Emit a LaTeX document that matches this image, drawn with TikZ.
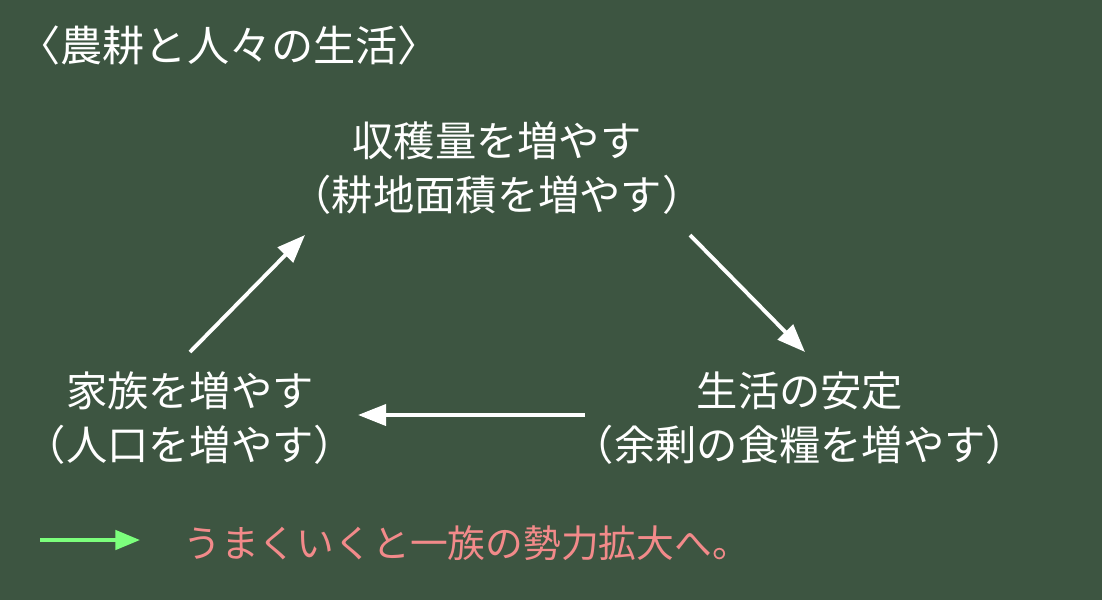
\documentclass[tikz,border=0pt]{standalone}
\usepackage{fontspec}
\setmainfont{Noto Sans CJK JP}
\usetikzlibrary{arrows.meta}
\definecolor{board}{HTML}{3D5541}
\definecolor{pinktxt}{HTML}{F28A8A}
\definecolor{greenarr}{HTML}{7CFF7C}
\begin{document}
\begin{tikzpicture}[x=0.02cm,y=-0.02cm,
  lbl/.style={text=white,font=\fontsize{23.5}{31}\selectfont,align=center,inner sep=0},
  arr/.style={draw=white,line width=2.2pt,-{Triangle[length=16pt,width=12pt]}}]
\fill[board] (0,0) rectangle (1102,600);
\useasboundingbox (0,0) rectangle (1102,600);
\node[lbl,anchor=west,font=\fontsize{24}{30}\selectfont] (title) at (18,45) {〈農耕と人々の生活〉};
\node[lbl] (top) at (497,168) {収穫量を増やす\\（耕地面積を増やす）};
\node[lbl] (right) at (800,418) {生活の安定\\（余剰の食糧を増やす）};
\node[lbl] (left) at (190,418) {家族を増やす\\（人口を増やす）};
\coordinate (a1) at (190,352); \coordinate (a2) at (305,235);
\coordinate (b1) at (690,235); \coordinate (b2) at (805,352);
\coordinate (c1) at (585,415); \coordinate (c2) at (358,415);
\draw[arr] (a1) -- (a2);
\draw[arr] (b1) -- (b2);
\draw[arr] (c1) -- (c2);
\coordinate (g1) at (40,540); \coordinate (g2) at (140,540);
\draw[draw=greenarr,line width=2pt,-{Triangle[length=14pt,width=11pt]}] (g1) -- (g2);
\node[lbl,text=pinktxt,anchor=west,font=\fontsize{21.5}{28}\selectfont] (note) at (183,543) {うまくいくと一族の勢力拡大へ。};
\end{tikzpicture}
\end{document}
